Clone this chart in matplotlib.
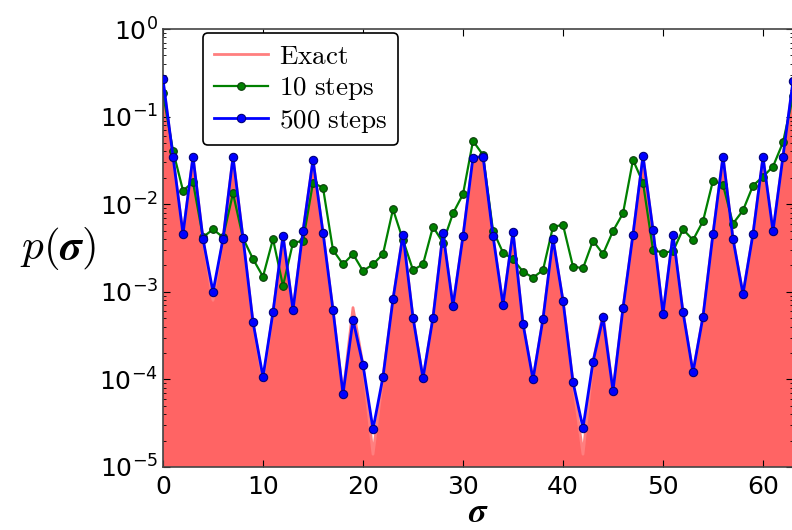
import matplotlib
matplotlib.use('Agg')
import matplotlib.pyplot as plt
from matplotlib.font_manager import FontProperties

sigma = list(range(64))

steps500 = [0.266, 0.0349, 0.00457, 0.0349, 0.0040, 0.0010, 0.0040, 0.0345,
            0.0041, 4.5e-4, 1.07e-4, 5.85e-4, 0.00437, 6.2e-4, 0.0049, 0.032,
            0.00473, 6.2e-4, 6.8e-5, 4.8e-4, 1.46e-4, 2.7e-5, 1.07e-4, 8.2e-4,
            0.0045, 5.07e-4, 1.03e-4, 5.07e-4, 0.00465, 6.9e-4, 0.0043, 0.034,
            0.035, 0.00434, 7.1e-4, 0.00486, 4.3e-4, 1.0e-4, 4.9e-4, 0.0040,
            7.9e-4, 9.3e-5, 2.8e-5, 1.58e-4, 5.1e-4, 7.4e-5, 6.5e-4, 0.0045,
            0.0355, 0.00507, 5.6e-4, 0.0045, 5.85e-4, 1.2e-4, 5.2e-4, 0.00457,
            0.035, 0.0040, 9.4e-4, 0.00457, 0.0345, 0.0049, 0.0349, 0.255]

exact = [0.25, 0.0349, 0.00457, 0.0349, 0.0040, 8.0e-4, 0.0040, 0.0345,
         0.0041, 4.5e-4, 9.5e-5, 5.85e-4, 0.00437, 6.2e-4, 0.0049, 0.032,
         0.00473, 6.2e-4, 6.8e-5, 6.6e-4, 1.46e-4, 1.4e-5, 1.07e-4, 8.2e-4,
         0.0045, 5.07e-4, 1.03e-4, 5.07e-4, 0.00465, 6.9e-4, 0.0043, 0.034,
         0.035, 0.00434, 7.1e-4, 0.00486, 4.3e-4, 1.0e-4, 4.9e-4, 0.0040,
         7.9e-4, 9.3e-5, 1.4e-5, 1.58e-4, 5.6e-4, 7.4e-5, 6.5e-4, 0.0045,
         0.0355, 0.00507, 5.6e-4, 0.0045, 5.85e-4, 1.2e-4, 5.2e-4, 0.00457,
         0.035, 0.0040, 9.4e-4, 0.00457, 0.0345, 0.0049, 0.0349, 0.24]

steps10 = [0.184, 0.0408, 0.0143, 0.0178, 0.0042, 0.00517, 0.0042, 0.0133,
           0.0041, 0.00237, 0.00149, 0.0040, 0.00117, 0.00364, 0.0038, 0.0176,
           0.0154, 0.0030, 0.00206, 0.0027, 0.00173, 0.00206, 0.0027, 0.00875,
           0.0039, 0.00177, 0.00206, 0.00553, 0.00364, 0.00787, 0.013, 0.0527,
           0.0365, 0.0050, 0.0028, 0.00235, 0.0017, 0.00145, 0.00177, 0.00553,
           0.0058, 0.00194, 0.00186, 0.00383, 0.0027, 0.00494, 0.00787, 0.032,
           0.0176, 0.0030, 0.0028, 0.0029, 0.00517, 0.0039, 0.0064, 0.0186,
           0.0166, 0.0060, 0.0085, 0.0163, 0.0206, 0.0269, 0.0508, 0.17]

xticks = [0, 10, 20, 30, 40, 50, 60]
labels = [r'$\mathrm{Exact}$', r'$\mathrm{10\ steps}$', r'$\mathrm{500\ steps}$']

fig = plt.figure(figsize=(7.92, 5.30), dpi=100)
ax = fig.add_axes([163 / 792, 1 - 467 / 530, 630 / 792, 438 / 530])

ax.fill_between(sigma, exact, 1e-7, color='#ff6464', lw=0, zorder=1)
ax.plot(sigma, exact, color='#ff7f7f', lw=2, label=labels[0], zorder=1)
ax.plot(sigma, steps10, '-o', color='#008000', mfc='#008000', mec='#0b3d0b',
        ms=5.5, mew=0.8, lw=1.6, label=labels[1], zorder=2)
ax.plot(sigma, steps500, '-o', color='#0000ff', mfc='#0000ff', mec='#00007a',
        ms=6, mew=0.8, lw=2.0, label=labels[2], zorder=3)

ax.set_yscale('log')
ax.set_ylim(1e-5, 1)
ax.set_xlim(0, 63)
ax.set_xticks(xticks)
ax.tick_params(which='both', direction='in', top=True, right=True, labelsize=18)
ax.tick_params(which='major', length=5, width=0.8)
ax.tick_params(which='minor', length=2.5, width=0.6)
ax.tick_params(axis='x', pad=6)
for s in ax.spines.values():
    s.set_color('#444444')
    s.set_linewidth(1.2)

lp = FontProperties(size=19.5, math_fontfamily='cm')
leg = ax.legend(loc='upper left', bbox_to_anchor=(0.0635, 0.991), borderaxespad=0,
                prop=lp, handlelength=2.0, fancybox=True, framealpha=1,
                edgecolor='black', handletextpad=0.4, labelspacing=0.2,
                borderpad=0.4)
leg.get_frame().set_linewidth(1.2)

fig.text(58 / 792, 1 - 248 / 530, r'$p(\boldsymbol{\sigma})$', fontsize=31,
         math_fontfamily='cm', ha='center', va='center')
fig.text(478 / 792, 1 - 529 / 530, r'$\boldsymbol{\sigma}$', fontsize=25,
         math_fontfamily='cm', ha='center', va='bottom')

fig.savefig('out.png', dpi=100)
